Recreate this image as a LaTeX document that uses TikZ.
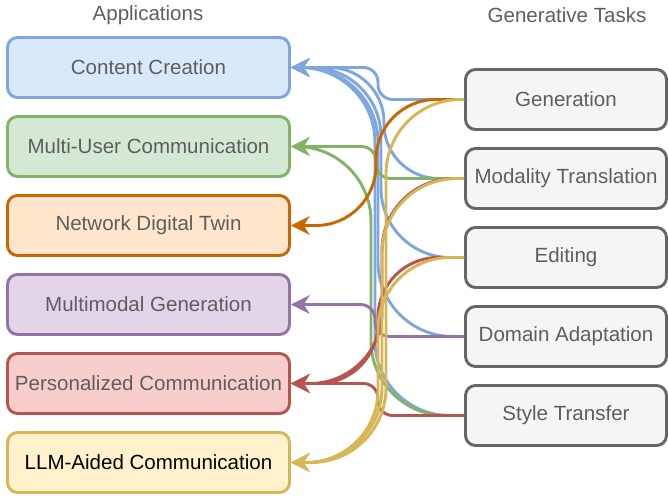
\documentclass[tikz,border=0pt]{standalone}
\usepackage{fontspec}
\setmainfont{Liberation Sans}
\usetikzlibrary{arrows.meta,calc}

\definecolor{txtgray}{HTML}{5E5E5E}
\definecolor{blueln}{HTML}{7EA6E0}
\definecolor{bluefill}{HTML}{DAE8FC}
\definecolor{greenln}{HTML}{82B366}
\definecolor{greenfill}{HTML}{D5E8D4}
\definecolor{orangeln}{HTML}{CC6600}
\definecolor{orangefill}{HTML}{FFE6CC}
\definecolor{purpleln}{HTML}{9673A6}
\definecolor{purplefill}{HTML}{E1D5E7}
\definecolor{redln}{HTML}{B85450}
\definecolor{redfill}{HTML}{F8CECC}
\definecolor{yellowln}{HTML}{D6B656}
\definecolor{yellowfill}{HTML}{FFF2CC}
\definecolor{taskln}{HTML}{666666}
\definecolor{taskfill}{HTML}{F5F5F5}

\begin{document}
\begin{tikzpicture}[
    x=0.75pt, y=-0.75pt,
    font=\fontsize{15.4}{18}\selectfont,
    app/.style={rectangle,rounded corners=7.5pt,line width=2.2pt,
        minimum width=211.5pt,minimum height=45pt,text=txtgray},
    task/.style={rectangle,rounded corners=7.5pt,line width=2.2pt,
        draw=taskln,fill=taskfill,minimum width=150.75pt,
        minimum height=45pt,text=txtgray},
    link/.style={line width=2.2pt,
        -{Stealth[length=14pt,width=14pt,inset=4.5pt]}},
    ]
    \useasboundingbox (0,0) rectangle (668,498);

    %Titles
    \node[text=txtgray] (apptitle) at (148,15) {Applications};
    \node[text=txtgray] (tasktitle) at (567,15) {Generative Tasks};

    %Applications
    \node[app,draw=blueln,fill=bluefill] (cc) at (148.5,67.5) {Content Creation};
    \node[app,draw=greenln,fill=greenfill] (mu) at (148.5,146.5) {Multi-User Communication};
    \node[app,draw=orangeln,fill=orangefill] (ndt) at (148.5,225.5) {Network Digital Twin};
    \node[app,draw=purpleln,fill=purplefill] (mm) at (148.5,304.5) {Multimodal Generation};
    \node[app,draw=redln,fill=redfill] (pc) at (148.5,383.5) {Personalized Communication};
    \node[app,draw=yellowln,fill=yellowfill,text=black] (llm) at (148.5,462.5) {LLM-Aided Communication};

    %Generative tasks
    \node[task] (gen) at (566,99.5) {Generation};
    \node[task] (mt) at (566,178.5) {Modality Translation};
    \node[task] (ed) at (566,257.5) {Editing};
    \node[task] (da) at (566,336.5) {Domain Adaptation};
    \node[task] (st) at (566,415.5) {Style Transfer};

    \coordinate (mid) at (378,0);

    %Content Creation
    \draw[link,blueln,rounded corners=11pt] (gen.west) -| ($(mid |- cc.east)+(0,0)$) -- (cc.east);
    \draw[link,blueln,rounded corners=41pt] (mt.west) -| ($(mid |- cc.east)+(6,0)$) -- (cc.east);
    \draw[link,blueln,rounded corners=52pt] (ed.west) -| ($(mid |- cc.east)+(3,0)$) -- (cc.east);
    \draw[link,blueln,rounded corners=56pt] (da.west) -| ($(mid |- cc.east)+(0,0)$) -- (cc.east);
    \draw[link,blueln,rounded corners=56pt] (st.west) -| ($(mid |- cc.east)+(-3,0)$) -- (cc.east);

    %Multi-User Communication
    \draw[link,greenln,rounded corners=11pt] (mt.west) -| ($(mid |- mu.east)+(-2,0)$) -- (mu.east);
    \draw[link,greenln,rounded corners=56pt] (st.west) -| ($(mid |- mu.east)+(-7,0)$) -- (mu.east);

    %Network Digital Twin
    \draw[link,orangeln,rounded corners=45pt] (gen.west) -| ($(mid |- ndt.east)+(-2,0)$) -- (ndt.east);

    %Multimodal Generation
    \draw[link,purpleln,rounded corners=11pt] (da.west) -| ($(mid |- mm.east)+(-3,0)$) -- (mm.east);

    %Personalized Communication
    \draw[link,redln,rounded corners=54pt] (mt.west) -| ($(mid |- pc.east)+(4,0)$) -- (pc.east);
    \draw[link,redln,rounded corners=45pt] (ed.west) -| ($(mid |- pc.east)+(0,0)$) -- (pc.east);
    \draw[link,redln,rounded corners=11pt] (st.west) -| ($(mid |- pc.east)+(0,0)$) -- (pc.east);

    %LLM-Aided Communication
    \draw[link,yellowln,rounded corners=56pt] (gen.west) -| ($(mid |- llm.east)+(8,0)$) -- (llm.east);
    \draw[link,yellowln,rounded corners=56pt] (mt.west) -| ($(mid |- llm.east)+(4,0)$) -- (llm.east);
    \draw[link,yellowln,rounded corners=54pt] (ed.west) -| ($(mid |- llm.east)+(0,0)$) -- (llm.east);

\end{tikzpicture}
\end{document}
